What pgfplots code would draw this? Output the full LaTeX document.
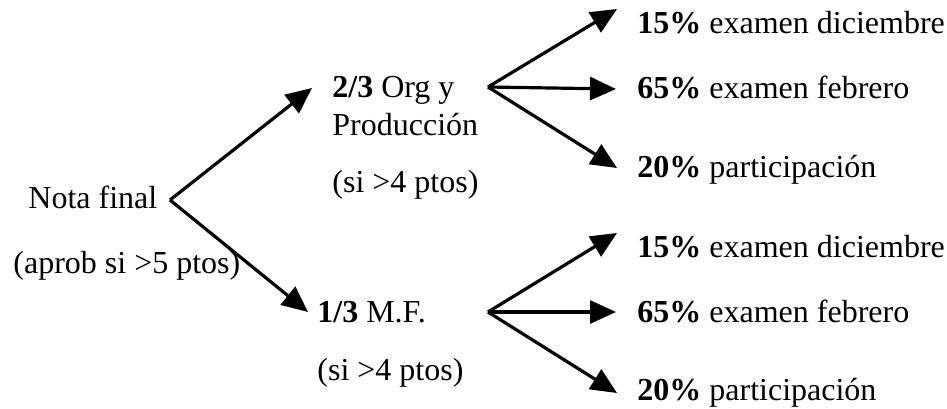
\documentclass[border=0pt]{standalone}
\usepackage{pgfplots}
\pgfplotsset{compat=1.18}
\usetikzlibrary{arrows.meta}
\usepackage{fontspec}
\setmainfont{Liberation Serif}
\begin{document}
\begin{tikzpicture}
\begin{axis}[
  width=473.5pt, height=204pt, scale only axis,
  xmin=0, xmax=947, ymin=0, ymax=408, y dir=reverse,
  hide axis, clip=false,
  ar/.style={black, solid, no markers, line width=1.6pt, -{Triangle[length=13pt,width=11.5pt]}},
  nodes={font=\fontsize{16}{19}\selectfont, inner sep=0pt, anchor=base west}
]
% root branches
\addplot[ar] coordinates {(170,200) (312,88)};
\addplot[ar] coordinates {(170,200) (308,312)};
% upper branch
\addplot[ar] coordinates {(488,87) (617,9)};
\addplot[ar] coordinates {(488,87) (616,89)};
\addplot[ar] coordinates {(488,87) (617,168)};
% lower branch
\addplot[ar] coordinates {(488,312) (617,233)};
\addplot[ar] coordinates {(488,312) (616,312)};
\addplot[ar] coordinates {(488,312) (617,393)};

\node at (axis cs:28,208) {Nota final};
\node at (axis cs:13,273) {(aprob si >5 ptos)};
\node at (axis cs:332,97) {\textbf{2/3} Org y};
\node at (axis cs:332,135) {Producción};
\node at (axis cs:332,192) {(si >4 ptos)};
\node at (axis cs:317,322) {\textbf{1/3} M.F.};
\node at (axis cs:317,380) {(si >4 ptos)};

\node at (axis cs:637,33) {\textbf{15\%} examen diciembre};
\node at (axis cs:637,98) {\textbf{65\%} examen febrero};
\node at (axis cs:637,177) {\textbf{20\%} participación};
\node at (axis cs:637,257) {\textbf{15\%} examen diciembre};
\node at (axis cs:637,322) {\textbf{65\%} examen febrero};
\node at (axis cs:637,400) {\textbf{20\%} participación};

\coordinate (BBA) at (axis cs:0,408);
\coordinate (BBB) at (axis cs:947,0);
\end{axis}
\pgfresetboundingbox
\path (BBA) rectangle (BBB);
\end{tikzpicture}
\end{document}
